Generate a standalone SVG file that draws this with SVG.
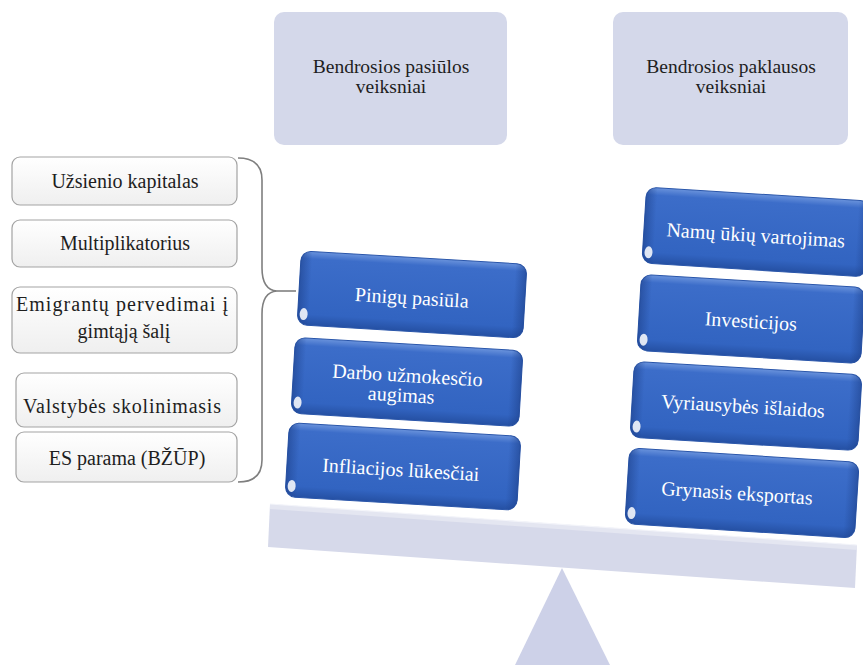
<svg xmlns="http://www.w3.org/2000/svg" width="863" height="665" viewBox="0 0 863 665" font-family="Liberation Serif, serif">
  <style>
    text { font-size: 20px; text-anchor: middle; }
    .head rect { fill: #d4d8ea; }
    .head text { fill: #1e1e1e; font-size: 19.5px; }
    .grey rect { fill: url(#greyFill); stroke: #a3a3a3; stroke-width: 1.2; }
    .grey text { fill: #1e1e1e; }
    .blue .body { fill: url(#blueFill); stroke: #2a56aa; stroke-width: 1; }
    .blue .edge { fill: url(#blueEdge); }
    .blue .glint { fill: #ffffff; opacity: 0.85; }
    .blue text { fill: #ffffff; }
    .brace { fill: none; stroke: #7f7f7f; stroke-width: 1.6; }
  </style>
  <defs>
    <linearGradient id="greyFill" x1="0" y1="0" x2="0" y2="1">
      <stop offset="0" stop-color="#ffffff"/>
      <stop offset="1" stop-color="#efefef"/>
    </linearGradient>
    <linearGradient id="blueFill" x1="0" y1="0" x2="0" y2="1">
      <stop offset="0" stop-color="#6a93dc"/>
      <stop offset="0.1" stop-color="#3c6dc9"/>
      <stop offset="0.85" stop-color="#3264c1"/>
      <stop offset="1" stop-color="#2550a3"/>
    </linearGradient>
    <linearGradient id="blueEdge" x1="0" y1="0" x2="1" y2="0">
      <stop offset="0" stop-color="#1c3f88" stop-opacity="0.55"/>
      <stop offset="0.05" stop-color="#1c3f88" stop-opacity="0"/>
      <stop offset="0.95" stop-color="#1c3f88" stop-opacity="0"/>
      <stop offset="1" stop-color="#1c3f88" stop-opacity="0.55"/>
    </linearGradient>
  </defs>

  <rect width="863" height="665" fill="#ffffff"/>

  <!-- balance: fulcrum and beam -->
  <g id="scale">
    <polygon points="562,568 515,665 610,665" fill="#cdd1e8"/>
    <polygon points="270,504 857,545 855,588 268,547" fill="#d6d9ea"/>
    <polygon points="270,504 857,545 857,550 270,509" fill="#e4e6f1"/>
    <line x1="270" y1="504" x2="857" y2="545" stroke="#f4f5fa" stroke-width="1.2"/>
  </g>

  <!-- column headers -->
  <g id="supply-header" class="head">
    <rect x="274" y="12" width="233" height="133" rx="10"/>
    <text x="391" y="73">Bendrosios pasiūlos</text>
    <text x="391" y="93">veiksniai</text>
  </g>
  <g id="demand-header" class="head">
    <rect x="613" y="12" width="235" height="133" rx="10"/>
    <text x="731" y="73">Bendrosios paklausos</text>
    <text x="731" y="93">veiksniai</text>
  </g>

  <!-- money supply sub-factors -->
  <g id="foreign-capital" class="grey">
    <rect x="12" y="157" width="225" height="48" rx="8"/>
    <text x="125" y="188">Užsienio kapitalas</text>
  </g>
  <g id="multiplier" class="grey">
    <rect x="12" y="220" width="225" height="47" rx="8"/>
    <text x="125" y="250">Multiplikatorius</text>
  </g>
  <g id="remittances" class="grey">
    <rect x="12" y="287" width="225" height="66" rx="8"/>
    <text x="122" y="311" textLength="212">Emigrantų pervedimai į</text>
    <text x="124" y="338">gimtąją šalį</text>
  </g>
  <g id="state-borrowing" class="grey">
    <rect x="16" y="373" width="221" height="54" rx="8"/>
    <text x="122" y="413" textLength="198">Valstybės skolinimasis</text>
  </g>
  <g id="eu-support" class="grey">
    <rect x="16" y="432" width="221" height="50" rx="8"/>
    <text x="127" y="465">ES parama (BŽŪP)</text>
  </g>

  <!-- brace gathering the sub-factors into money supply -->
  <g id="connectors">
    <path class="brace" d="M238,158 Q262,158 262,180 L262,268 Q262,290 277,291 Q262,292 262,314 L262,460 Q262,482 238,482"/>
    <line class="brace" x1="277" y1="291" x2="296" y2="291"/>
  </g>

  <!-- supply side -->
  <g id="money-supply" class="blue" transform="translate(412 294.5) rotate(3.4)">
    <rect class="body" x="-113" y="-37" width="226" height="74" rx="10"/>
    <rect class="edge" x="-113" y="-37" width="226" height="74" rx="10"/>
    <ellipse class="glint" cx="-107" cy="26" rx="4" ry="6"/>
    <text x="0" y="10">Pinigų pasiūla</text>
  </g>
  <g id="wage-growth" class="blue" transform="translate(407 382) rotate(3.4)">
    <rect class="body" x="-114" y="-38" width="228" height="76" rx="10"/>
    <rect class="edge" x="-114" y="-38" width="228" height="76" rx="10"/>
    <ellipse class="glint" cx="-108" cy="27" rx="4" ry="6"/>
    <text x="0" y="0">Darbo užmokesčio</text>
    <text x="-5" y="20">augimas</text>
  </g>
  <g id="inflation-expectations" class="blue" transform="translate(403 466.5) rotate(3.4)">
    <rect class="body" x="-116" y="-37" width="232" height="74" rx="10"/>
    <rect class="edge" x="-116" y="-37" width="232" height="74" rx="10"/>
    <ellipse class="glint" cx="-110" cy="26" rx="4" ry="6"/>
    <text x="-2" y="10">Infliacijos lūkesčiai</text>
  </g>

  <!-- demand side -->
  <g id="household-consumption" class="blue" transform="translate(756 232) rotate(3.6)">
    <rect class="body" x="-112" y="-38" width="224" height="76" rx="10"/>
    <rect class="edge" x="-112" y="-38" width="224" height="76" rx="10"/>
    <ellipse class="glint" cx="-106" cy="27" rx="4" ry="6"/>
    <text x="0" y="10">Namų ūkių vartojimas</text>
  </g>
  <g id="investment" class="blue" transform="translate(751 319) rotate(3.4)">
    <rect class="body" x="-112" y="-38" width="224" height="76" rx="10"/>
    <rect class="edge" x="-112" y="-38" width="224" height="76" rx="10"/>
    <ellipse class="glint" cx="-106" cy="27" rx="4" ry="6"/>
    <text x="0" y="9">Investicijos</text>
  </g>
  <g id="government-spending" class="blue" transform="translate(746 406) rotate(3.4)">
    <rect class="body" x="-114" y="-38" width="228" height="76" rx="10"/>
    <rect class="edge" x="-114" y="-38" width="228" height="76" rx="10"/>
    <ellipse class="glint" cx="-108" cy="27" rx="4" ry="6"/>
    <text x="-3" y="7">Vyriausybės išlaidos</text>
  </g>
  <g id="net-exports" class="blue" transform="translate(742 493) rotate(3.6)">
    <rect class="body" x="-115" y="-38" width="230" height="76" rx="10"/>
    <rect class="edge" x="-115" y="-38" width="230" height="76" rx="10"/>
    <ellipse class="glint" cx="-109" cy="27" rx="4" ry="6"/>
    <text x="-5" y="7">Grynasis eksportas</text>
  </g>
</svg>
